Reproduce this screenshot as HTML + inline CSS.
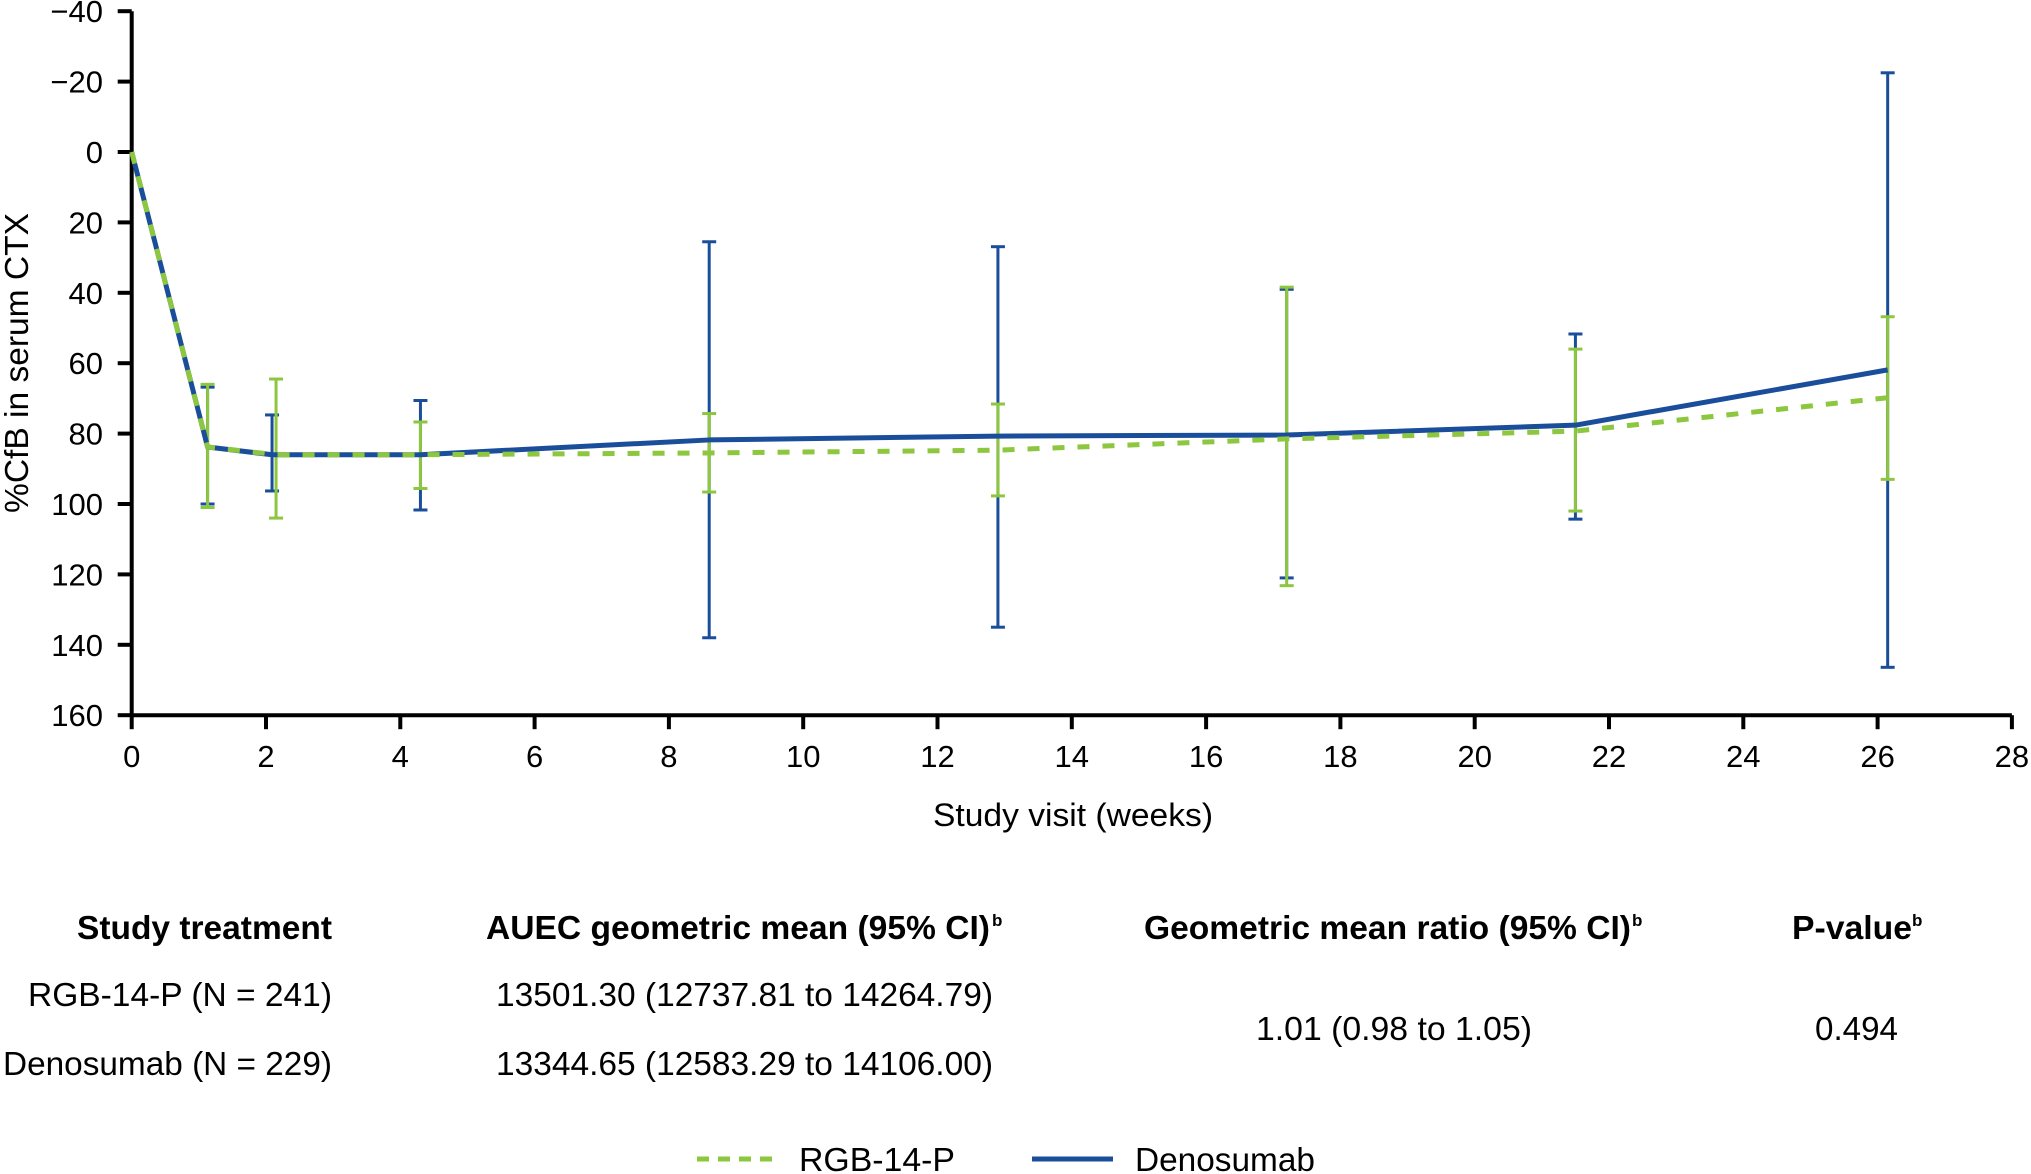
<!DOCTYPE html>
<html><head><meta charset="utf-8"><style>
html,body{margin:0;padding:0;background:#fff;}
svg{display:block;font-family:"Liberation Sans",Arial,sans-serif;}
</style></head><body>
<svg id="chart" width="2031" height="1174" viewBox="0 0 2031 1174">
<g id="axes"></g>
<g id="marks"></g>
<text x="1073" y="826" font-size="32" text-anchor="middle" textLength="280" lengthAdjust="spacingAndGlyphs">Study visit (weeks)</text>
<text transform="translate(28,363) rotate(-90)" font-size="33" text-anchor="middle" textLength="300" lengthAdjust="spacingAndGlyphs">%CfB in serum CTX</text>
<g font-size="33">
<text x="332" y="939" text-anchor="end" font-weight="bold" textLength="255" lengthAdjust="spacingAndGlyphs">Study treatment</text>
<text x="486" y="939" font-weight="bold" textLength="504" lengthAdjust="spacingAndGlyphs">AUEC geometric mean (95% CI)</text>
<text x="992" y="926" font-size="17" font-weight="bold">b</text>
<text x="1144" y="939" font-weight="bold" textLength="487" lengthAdjust="spacingAndGlyphs">Geometric mean ratio (95% CI)</text>
<text x="1632" y="926" font-size="17" font-weight="bold">b</text>
<text x="1792" y="939" font-weight="bold" textLength="120" lengthAdjust="spacingAndGlyphs">P-value</text>
<text x="1912" y="926" font-size="17" font-weight="bold">b</text>
<text x="332" y="1006" text-anchor="end" textLength="304" lengthAdjust="spacingAndGlyphs">RGB-14-P (N = 241)</text>
<text x="496" y="1006" textLength="497" lengthAdjust="spacingAndGlyphs">13501.30 (12737.81 to 14264.79)</text>
<text x="332" y="1075" text-anchor="end" textLength="329" lengthAdjust="spacingAndGlyphs">Denosumab (N = 229)</text>
<text x="496" y="1075" textLength="497" lengthAdjust="spacingAndGlyphs">13344.65 (12583.29 to 14106.00)</text>
<text x="1256" y="1040" textLength="276" lengthAdjust="spacingAndGlyphs">1.01 (0.98 to 1.05)</text>
<text x="1815" y="1040" textLength="83" lengthAdjust="spacingAndGlyphs">0.494</text>
</g>
<g>
<line x1="697" y1="1159" x2="777" y2="1159" stroke="#8dc63f" stroke-width="5" stroke-dasharray="12,9"/>
<text x="799" y="1171" font-size="33" textLength="156" lengthAdjust="spacingAndGlyphs">RGB-14-P</text>
<line x1="1032" y1="1159" x2="1113" y2="1159" stroke="#1a4e9a" stroke-width="5"/>
<text x="1135" y="1171" font-size="33" textLength="180" lengthAdjust="spacingAndGlyphs">Denosumab</text>
</g>
</svg>
<script>
const weeksDen = [0, 1.13, 2.09, 4.3, 8.6, 12.9, 17.2, 21.5, 26.15];
const weeksRgb = [0, 1.13, 2.15, 4.3, 8.6, 12.9, 17.2, 21.5, 26.15];
const denMean = [0, 83.8, 86, 86, 81.8, 80.7, 80.4, 77.6, 61.9];
const rgbMean = [0, 83.8, 86, 86, 85.5, 84.7, 81.5, 79.3, 69.8];
const denLow = [null, 66.8, 74.7, 70.6, 25.5, 26.9, 39, 51.7, -22.5];
const denHigh = [null, 100, 96.3, 101.7, 138, 135, 121, 104.3, 146.4];
const rgbLow = [null, 66, 64.5, 76.7, 74.3, 71.6, 38.4, 56, 46.8];
const rgbHigh = [null, 101, 104, 95.6, 96.6, 97.7, 123.2, 102, 93];
const xTicks = [0,2,4,6,8,10,12,14,16,18,20,22,24,26,28];
const yTicks = [-40,-20,0,20,40,60,80,100,120,140,160];

const NS = "http://www.w3.org/2000/svg";
const X0 = 131.7, XPW = 67.15, Y0 = 152, YPU = 3.52;
const sx = w => X0 + w * XPW;
const sy = v => Y0 + v * YPU;
function mk(tag, attrs, parent){const e=document.createElementNS(NS,tag);for(const k in attrs)e.setAttribute(k,attrs[k]);parent.appendChild(e);return e;}
const axes = document.getElementById('axes');
const marks = document.getElementById('marks');

let a = mk('line',{x1:X0,y1:sy(-40),x2:X0,y2:sy(160)+1.5,stroke:'#000','stroke-width':4},axes);


a = mk('line',{x1:X0-1.5,y1:sy(160),x2:sx(28),y2:sy(160),stroke:'#000','stroke-width':4},axes);



yTicks.forEach(v=>{
  const t = mk('line',{x1:X0-14,y1:sy(v),x2:X0,y2:sy(v),stroke:'#000','stroke-width':4},axes);
  
  
  const l = mk('text',{x:103,y:sy(v)+11,'font-size':31,'text-anchor':'end'},axes);
  l.textContent = (v<0?'\u2212'+Math.abs(v):String(v));
  
  
});
xTicks.forEach(w=>{
  const t = mk('line',{x1:sx(w),y1:sy(160),x2:sx(w),y2:sy(160)+14,stroke:'#000','stroke-width':4},axes);
  
  
  const l = mk('text',{x:sx(w),y:767,'font-size':31,'text-anchor':'middle'},axes);
  l.textContent = String(w);
  
  
});

function errBars(xs, lo, hi, color, name){
  for(let i=0;i<xs.length;i++){
    if(lo[i]===null) continue;
    const x=sx(xs[i]);
    const g = mk('g',{stroke:color,'stroke-width':3},marks);
    
    
    mk('line',{x1:x,y1:sy(lo[i]),x2:x,y2:sy(hi[i])},g);
    mk('line',{x1:x-7,y1:sy(lo[i]),x2:x+7,y2:sy(lo[i])},g);
    mk('line',{x1:x-7,y1:sy(hi[i]),x2:x+7,y2:sy(hi[i])},g);
  }
}
errBars(weeksDen, denLow, denHigh, '#1a4e9a', 'denosumab-error-bar');
errBars(weeksRgb, rgbLow, rgbHigh, '#8dc63f', 'rgb-error-bar');

let p = mk('polyline',{points:weeksDen.map((w,i)=>sx(w)+','+sy(denMean[i])).join(' '),fill:'none',stroke:'#1a4e9a','stroke-width':5,'stroke-linejoin':'round'},marks);


p = mk('polyline',{points:weeksRgb.map((w,i)=>sx(w)+','+sy(rgbMean[i])).join(' '),fill:'none',stroke:'#8dc63f','stroke-width':5,'stroke-dasharray':'12,13'},marks);


</script>
</body></html>
